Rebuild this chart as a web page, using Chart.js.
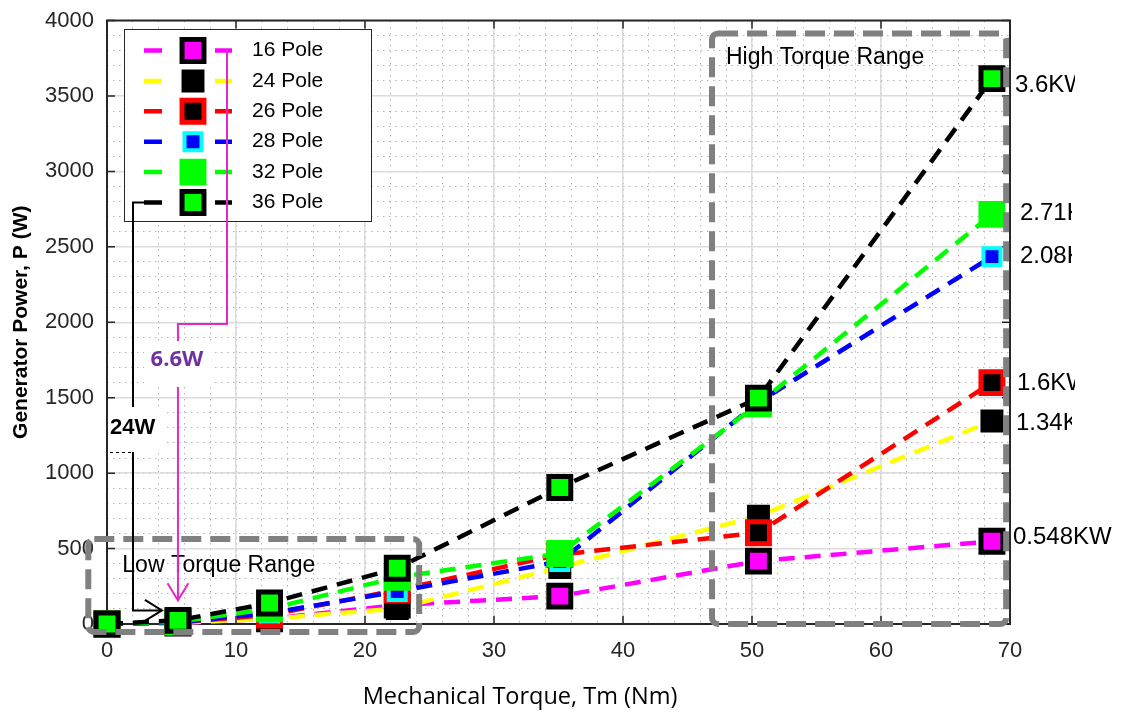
<!DOCTYPE html>
<html>
<head>
<meta charset="utf-8">
<title>Generator Power vs Mechanical Torque</title>
<script src="https://cdn.jsdelivr.net/npm/chart.js@4.4.1/dist/chart.umd.min.js"></script>
<style>
  html, body { margin: 0; padding: 0; background: #fff; }
  #wrap { width: 1125px; height: 714px; }
</style>
</head>
<body>
<div id="wrap"><canvas id="powerChart" width="1125" height="714"></canvas></div>
<script>
//// data
const torque = [0, 5.5, 12.6, 22.5, 35.1, 50.5, 68.6];

const pole16 = [0, 6.6, 35, 125, 185, 417, 548];
const pole24 = [0, 8, 35, 103, 375, 715, 1345];
const pole26 = [0, 10, 60, 225, 460, 605, 1600];
const pole28 = [0, 12, 72, 215, 414, 1470, 2435];
const pole32 = [0, 16, 100, 310, 467, 1460, 2715];
const pole36 = [0, 24, 139, 370, 905, 1497, 3615];

const seriesNames = ['16 Pole', '24 Pole', '26 Pole', '28 Pole', '32 Pole', '36 Pole'];

const xTicks = [0, 10, 20, 30, 40, 50, 60, 70];
const yTicks = [0, 500, 1000, 1500, 2000, 2500, 3000, 3500, 4000];

// text written next to the last point of each curve
const endLabels = ['3.6KW', '2.71KW', '2.08KW', '1.6KW', '1.34KW', '0.548KW'];
const endLabelSeries = [5, 4, 3, 2, 1, 0];

//// styles
const sans = '"Liberation Sans", Arial, sans-serif';
const axisColor = '#262626';
const boxGray = '#808080';

const seriesStyles = [
  { line: '#ff00ff', fill: '#ff00ff', edge: '#000000', radius: 15.5, edgeWidth: 5 },
  { line: '#ffff00', fill: '#000000', edge: '#000000', radius: 13.4, edgeWidth: 4 },
  { line: '#ff0000', fill: '#000000', edge: '#ff0000', radius: 15.5, edgeWidth: 5 },
  { line: '#0000ff', fill: '#0000ff', edge: '#00ffff', radius: 12, edgeWidth: 4 },
  { line: '#00ff00', fill: '#00ff00', edge: '#00ff00', radius: 15.5, edgeWidth: 5 },
  { line: '#000000', fill: '#00ff00', edge: '#000000', radius: 15.5, edgeWidth: 5 }
];

const seriesValues = [pole16, pole24, pole26, pole28, pole32, pole36];

function buildDatasets() {
  return seriesValues.map((values, i) => {
    const st = seriesStyles[i];
    return {
      label: seriesNames[i],
      data: torque.map((t, k) => ({ x: t, y: values[k] })),
      borderColor: st.line,
      borderWidth: 4.5,
      borderDash: [16, 10],
      borderCapStyle: 'butt',
      tension: 0,
      pointStyle: 'rect',
      pointRadius: st.radius,
      pointBorderWidth: st.edgeWidth,
      pointBackgroundColor: st.fill,
      pointBorderColor: st.edge,
      clip: false,
      order: seriesValues.length - i
    };
  });
}

function drawSquare(ctx, x, y, st) {
  const s = st.radius * Math.SQRT1_2;
  ctx.beginPath();
  ctx.rect(x - s, y - s, 2 * s, 2 * s);
  ctx.fillStyle = st.fill;
  ctx.fill();
  ctx.lineWidth = st.edgeWidth;
  ctx.strokeStyle = st.edge;
  ctx.stroke();
}

function dashedRoundBox(ctx, x1, y1, x2, y2) {
  ctx.save();
  ctx.strokeStyle = boxGray;
  ctx.lineWidth = 6;
  ctx.setLineDash([20, 9]);
  ctx.beginPath();
  ctx.roundRect(x1, y1, x2 - x1, y2 - y1, 6);
  ctx.stroke();
  ctx.restore();
}

function arrowHead(ctx, tipX, tipY, dirX, dirY, len) {
  const ang = Math.atan2(dirY, dirX);
  const spread = 0.55;
  ctx.beginPath();
  ctx.moveTo(tipX - len * Math.cos(ang - spread), tipY - len * Math.sin(ang - spread));
  ctx.lineTo(tipX, tipY);
  ctx.lineTo(tipX - len * Math.cos(ang + spread), tipY - len * Math.sin(ang + spread));
  ctx.stroke();
}

//// plugins
const framePlugin = {
  id: 'frame',
  beforeDatasetsDraw(chart) {
    const ctx = chart.ctx;
    const { left, right, top, bottom } = chart.chartArea;
    const xs = chart.scales.x;
    const ys = chart.scales.y;
    ctx.save();
    ctx.strokeStyle = axisColor;
    ctx.lineWidth = 2;
    ctx.strokeRect(left, top, right - left, bottom - top);
    ctx.lineWidth = 1.5;
    ctx.beginPath();
    xTicks.forEach(v => {
      const px = xs.getPixelForValue(v);
      ctx.moveTo(px, bottom); ctx.lineTo(px, bottom - 8);
      ctx.moveTo(px, top); ctx.lineTo(px, top + 8);
    });
    yTicks.forEach(v => {
      const py = ys.getPixelForValue(v);
      ctx.moveTo(left, py); ctx.lineTo(left + 8, py);
      ctx.moveTo(right, py); ctx.lineTo(right - 8, py);
    });
    ctx.stroke();
    ctx.restore();
  }
};

const annotationPlugin = {
  id: 'annotations',
  afterDatasetsDraw(chart) {
    const ctx = chart.ctx;
    const xs = chart.scales.x;
    const ys = chart.scales.y;
    const px = v => xs.getPixelForValue(v);
    const py = v => ys.getPixelForValue(v);
    const last = torque.length - 1;

    // end-of-curve labels (clipped like the original text boxes)
    const labelShift = [[23, 7, 1075], [28, -1, 1072], [28, 0, 1072], [25, 1, 1075], [24, 2, 1072], [21, -4, 1125]];
    ctx.save();
    ctx.font = '24px ' + sans;
    ctx.fillStyle = '#000';
    ctx.textBaseline = 'middle';
    endLabels.forEach((txt, i) => {
      const s = endLabelSeries[i];
      const [dx, dy, clipX] = labelShift[i];
      ctx.save();
      ctx.beginPath();
      ctx.rect(0, 0, clipX, chart.height);
      ctx.clip();
      ctx.fillText(txt, px(torque[last]) + dx, py(seriesValues[s][last]) + dy);
      ctx.restore();
    });
    ctx.restore();

    // torque range boxes
    dashedRoundBox(ctx, px(-1.45), py(563), px(24.2), py(-53));
    dashedRoundBox(ctx, px(46.9), py(3914), px(69.7), py(0));
    ctx.save();
    ctx.font = '23px ' + sans;
    ctx.fillStyle = '#000';
    ctx.textBaseline = 'middle';
    ctx.fillText('Low Torque Range', px(-1.45) + 34, py(563) + 27);
    ctx.fillText('High Torque Range', px(46.9) + 14, py(3914) + 24);
    ctx.restore();

    // legend
    const lx = 124.5, ly = 29.5, lw = 247, lh = 192;
    ctx.save();
    ctx.fillStyle = '#fff';
    ctx.fillRect(lx, ly, lw, lh);
    ctx.strokeStyle = axisColor;
    ctx.lineWidth = 1;
    ctx.strokeRect(lx, ly, lw, lh);
    ctx.font = '21px ' + sans;
    ctx.textBaseline = 'middle';
    seriesNames.forEach((name, i) => {
      const st = seriesStyles[i];
      const y = 50.5 + i * 30.4;
      ctx.strokeStyle = st.line;
      ctx.lineWidth = 4.5;
      ctx.beginPath();
      ctx.moveTo(144, y); ctx.lineTo(162, y);
      ctx.moveTo(215, y); ctx.lineTo(232, y);
      ctx.stroke();
      drawSquare(ctx, 193, y, st);
      ctx.fillStyle = '#000';
      ctx.fillText(name, 252, y);
    });
    ctx.restore();

    // 6.6W arrow (16 Pole at the second torque step)
    const mag = '#e628c8';
    const tipX = px(torque[1]);
    const magTipY = py(pole36[1]) - 20;
    ctx.save();
    ctx.strokeStyle = mag;
    ctx.lineWidth = 2;
    ctx.beginPath();
    ctx.moveTo(227, 49);
    ctx.lineTo(227, 324);
    ctx.lineTo(tipX, 324);
    ctx.lineTo(tipX, magTipY);
    ctx.stroke();
    arrowHead(ctx, tipX, magTipY, 0, 1, 20);
    ctx.fillStyle = '#fff';
    ctx.fillRect(tipX - 34, 341, 68, 46);
    ctx.font = 'bold 22px "Open Sans", ' + sans;
    ctx.fillStyle = '#7030a0';
    ctx.textAlign = 'center';
    ctx.textBaseline = 'middle';
    ctx.fillText('6.6W', tipX - 1, 360);
    ctx.restore();

    // 24W arrow (36 Pole at the second torque step)
    const blkTipX = px(torque[1]) - 16;
    const blkY = py(pole36[1]) - 10;
    ctx.save();
    ctx.strokeStyle = '#000';
    ctx.lineWidth = 2;
    ctx.beginPath();
    ctx.moveTo(145, 202.5);
    ctx.lineTo(133, 202.5);
    ctx.lineTo(133, blkY);
    ctx.lineTo(blkTipX, blkY);
    ctx.stroke();
    arrowHead(ctx, blkTipX, blkY, 1, 0, 20);
    ctx.fillStyle = '#fff';
    ctx.fillRect(108, 407, 58, 45);
    ctx.lineWidth = 1;
    ctx.setLineDash([3, 3]);
    ctx.beginPath();
    ctx.moveTo(110, 452.5); ctx.lineTo(134, 452.5);
    ctx.stroke();
    ctx.setLineDash([]);
    ctx.font = 'bold 22px ' + sans;
    ctx.fillStyle = '#000';
    ctx.textBaseline = 'middle';
    ctx.fillText('24W', 110, 428);
    ctx.restore();

    // x axis title
    ctx.save();
    ctx.font = '23.5px "Open Sans", ' + sans;
    ctx.fillStyle = '#000';
    ctx.textAlign = 'center';
    ctx.textBaseline = 'middle';
    ctx.fillText('Mechanical Torque, Tm (Nm)', 520, 697);
    ctx.restore();
  }
};

//// chart
const ctx = document.getElementById('powerChart').getContext('2d');
const powerChart = new Chart(ctx, {
  type: 'line',
  data: { datasets: buildDatasets() },
  options: {
    responsive: false,
    devicePixelRatio: 1,
    animation: false,
    events: [],
    layout: { padding: { top: 20, right: 115, bottom: 0, left: 0 } },
    plugins: {
      legend: { display: false },
      tooltip: { enabled: false }
    },
    scales: {
      x: {
        type: 'linear',
        min: 0,
        max: 70,
        afterBuildTicks: s => { s.ticks = xTicks.map(v => ({ value: v })); },
        afterFit: s => { s.height = 90; s.paddingLeft = 0; s.paddingRight = 0; },
        ticks: { font: { family: sans, size: 22 }, color: axisColor, padding: 14, callback: v => String(v) },
        grid: { color: '#dcdcdc', lineWidth: 1.5, drawTicks: false },
        border: { display: false }
      },
      y: {
        type: 'linear',
        min: 0,
        max: 4000,
        afterBuildTicks: s => { s.ticks = yTicks.map(v => ({ value: v })); },
        afterFit: s => { s.width = 107; s.paddingTop = 0; s.paddingBottom = 0; },
        ticks: { font: { family: sans, size: 22 }, color: axisColor, padding: 13, callback: v => String(v) },
        grid: { color: '#dcdcdc', lineWidth: 1.5, drawTicks: false },
        border: { display: false },
        title: {
          display: true,
          text: 'Generator Power, P (W)',
          font: { family: sans, size: 21, weight: 'bold' },
          color: '#000',
          padding: { top: 9, bottom: 0 }
        }
      },
      xMinor: {
        axis: 'x',
        type: 'linear',
        position: 'top',
        min: 0,
        max: 70,
        ticks: { display: false, stepSize: 2 },
        afterFit: s => { s.height = 0; },
        grid: { color: '#b4b4b4', lineWidth: 1, drawTicks: false, z: -2 },
        border: { display: false, dash: [1.5, 4.5] }
      },
      yMinor: {
        axis: 'y',
        type: 'linear',
        position: 'right',
        min: 0,
        max: 4000,
        ticks: { display: false, stepSize: 100 },
        afterFit: s => { s.width = 0; },
        grid: { color: '#b4b4b4', lineWidth: 1, drawTicks: false, z: -2 },
        border: { display: false, dash: [1.5, 4.5] }
      }
    }
  },
  plugins: [framePlugin, annotationPlugin]
});
</script>
</body>
</html>
